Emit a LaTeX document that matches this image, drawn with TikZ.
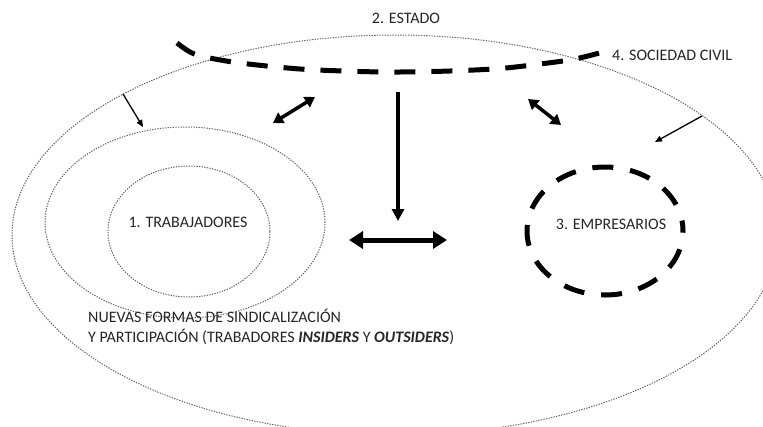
\documentclass[tikz,border=0pt]{standalone}
\usepackage{fontspec}
\setmainfont{Carlito}
\usetikzlibrary{arrows.meta,shapes.geometric}
\begin{document}
\begin{tikzpicture}[x=1pt,y=-1pt,
  dotell/.style={draw=black!62, line width=1pt, dash pattern=on 1.3pt off 1.3pt, ellipse, inner sep=0pt, outer sep=0pt},
  thickdash/.style={line width=5pt, dash pattern=on 21pt off 16pt},
  lbl/.style={font=\fontsize{16}{19}\selectfont, text=black!85, inner sep=0pt},
  dblarrow/.style={line width=3.5pt, {Triangle[length=10pt,width=12pt]}-{Triangle[length=10pt,width=12pt]}},
  vertarrow/.style={line width=3.5pt, -{Triangle[length=12pt,width=12pt]}},
  horarrow/.style={line width=5pt, {Triangle[length=14pt,width=17pt]}-{Triangle[length=14pt,width=17pt]}},
  thinarrow/.style={line width=1.3pt, -{Triangle[length=7pt,width=6pt]}}
]
\useasboundingbox (0,0) rectangle (763,426);
\clip (0,0) rectangle (763,426);
\fill[white] (0,0) rectangle (763,426);
% ellipses
\node[dotell, minimum width=766pt, minimum height=400pt] (big) at (395,235) {};
\node[dotell, minimum width=280pt, minimum height=191pt] (mid) at (185,222.5) {};
\node[dotell, minimum width=162pt, minimum height=131pt] (inner) at (189,231.5) {};
\node[draw, ellipse, inner sep=0pt, outer sep=0pt, line width=5pt,
      dash pattern=on 21pt off 17pt, dash phase=10.5pt,
      minimum width=156pt, minimum height=128pt] (emp) at (605,231) {};
% dashed arc (sociedad civil)
\draw[thickdash] plot[smooth, tension=0.55] coordinates {(177,43) (190,52) (205,57) (240,63) (300,69) (360,71.5) (400,72) (450,71) (500,68.5) (540,64) (575,59) (607,51)};
% labels
\node[lbl, anchor=base] (estado) at (406,23) {2. ESTADO};
\node[lbl, anchor=base west] (soc) at (612,60) {4. SOCIEDAD CIVIL};
\node[lbl, anchor=base] (trab) at (188,227) {1. TRABAJADORES};
\node[lbl, anchor=base] (empl) at (611,229.5) {3. EMPRESARIOS};
\node[lbl, anchor=base west] (nf1) at (88,322) {NUEVAS FORMAS DE SINDICALIZACIÓN};
\node[lbl, anchor=base west] (nf2) at (88,342) {Y PARTICIPACIÓN (TRABADORES \textbf{\textit{INSIDERS}} Y \textbf{\textit{OUTSIDERS}})};
% arrow end points
\coordinate (ulA) at (273,123); \coordinate (ulB) at (315,97);
\coordinate (urA) at (528,99);  \coordinate (urB) at (561,125);
\coordinate (vA) at (398,92);   \coordinate (vB) at (398,221);
\coordinate (hA) at (349,240);  \coordinate (hB) at (447,240);
\coordinate (tlA) at (123,94);  \coordinate (tlB) at (143,127);
\coordinate (trA) at (702,116); \coordinate (trB) at (655,142);
% arrows
\draw[dblarrow] (ulA) -- (ulB);
\draw[dblarrow] (urA) -- (urB);
\draw[vertarrow] (vA) -- (vB);
\draw[horarrow] (hA) -- (hB);
\draw[thinarrow] (tlA) -- (tlB);
\draw[thinarrow] (trA) -- (trB);
\end{tikzpicture}
\end{document}
